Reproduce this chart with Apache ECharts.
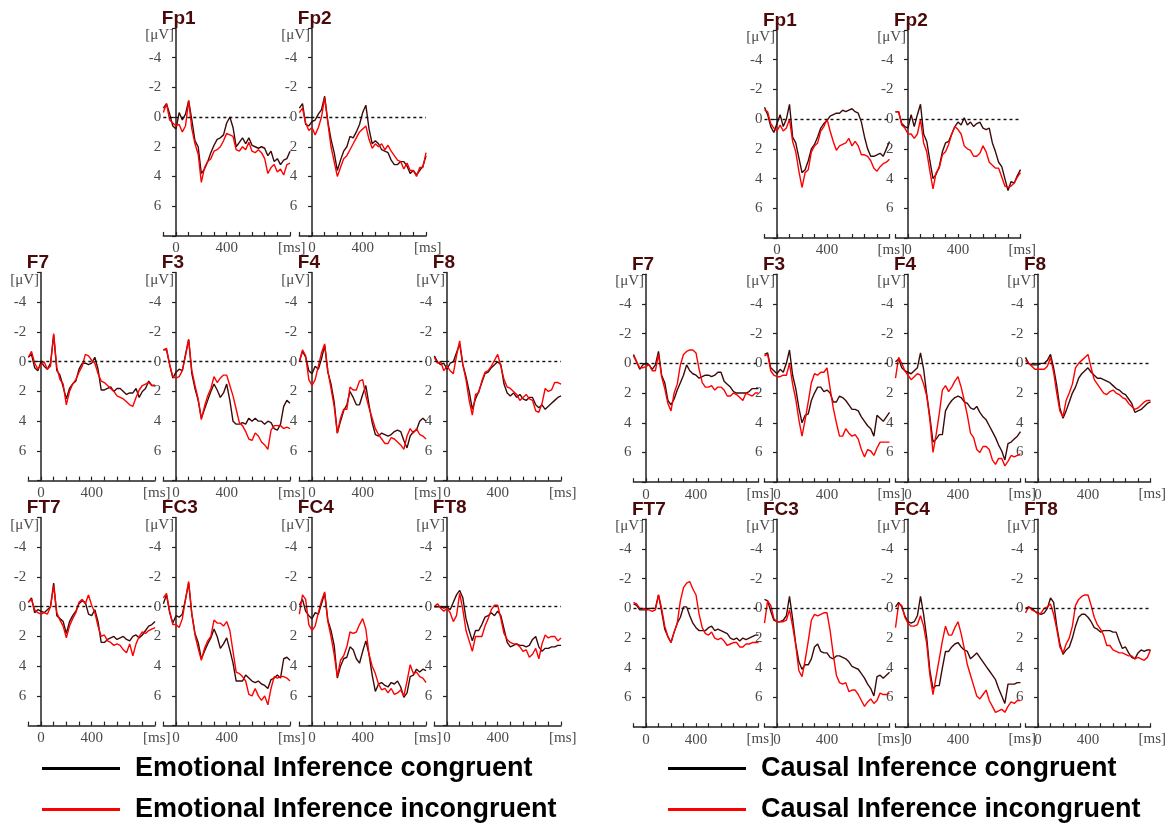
<!DOCTYPE html>
<html><head><meta charset="utf-8">
<script src="https://cdn.jsdelivr.net/npm/echarts@6/dist/echarts.min.js"></script>
<style>html,body{margin:0;padding:0;background:#fff}#c{width:1171px;height:826px}</style>
</head><body><div id="c"></div>
<script>
// ---------- data ----------
const times = [-100,-75,-50,-25,0,25,50,75,100,125,150,175,200,225,250,275,300,325,350,375,400,425,450,475,500,525,550,575,600,625,650,675,700,725,750,775,800,825,850,875,900];
const xLabelValues = [0, 400];
const yLabelValues = [-4, -2, 0, 2, 4, 6];
const emoNames = ['Emotional Inference congruent', 'Emotional Inference incongruent'];
const cauNames = ['Causal Inference congruent', 'Causal Inference incongruent'];

// Emotional inference (left block)
const emoFp1Con = [-0.6,-0.9,-0.2,0.6,0.8,-0.3,0.2,-0.2,-1.1, 0.2,1.6,2.0,3.8,3.5,3.0,2.4,1.9,1.5,1.4,1.2,0.4, 0.0,0.7,2.0,1.7,1.4,1.8,1.4,1.9,2.0,2.1,2.0,2.1, 2.6,2.3,3.0,2.8,3.2,2.9,2.8,2.3];
const emoFp1Inc = [-0.3,-0.9,0.2,0.4,0.6,0.5,1.0,0.6,-1.1, 0.8,1.8,2.5,4.4,3.4,3.0,2.8,2.3,2.2,2.0,1.6,1.1, 1.2,1.3,2.2,2.3,2.0,2.2,1.7,2.3,2.4,2.2,2.4,2.8, 3.8,3.4,3.2,3.7,3.5,3.9,3.2,3.1];
const emoFp2Con = [-0.6,-0.9,0.5,0.6,0.3,0.2,-0.2,-0.5,-1.4, 0.3,1.5,2.4,3.6,2.9,2.3,2.0,1.3,1.4,1.0,0.5,-0.3, -0.8,0.8,1.8,1.6,1.8,2.2,2.3,2.4,2.9,3.2,3.2,3.0, 3.0,3.3,3.8,3.6,3.9,3.6,3.3,2.6];
const emoFp2Inc = [-0.3,-0.6,0.4,0.9,0.7,1.2,0.7,0.0,-1.3, 0.4,2.0,3.0,4.0,3.4,2.8,2.6,2.2,1.8,1.4,1.0,0.8, 0.6,1.5,2.1,1.8,2.0,1.8,2.2,1.9,2.3,2.6,2.9,3.0, 3.5,3.1,3.6,3.6,4.0,3.4,3.4,2.4];
const emoF7Con  = [-0.3,-0.5,0.4,0.6,0.0,0.3,0.5,0.1,-1.8, 0.6,0.9,1.7,2.5,1.8,1.5,1.3,0.5,0.1,0.1,0.2,0.1, -0.3,0.5,1.9,1.9,1.8,1.7,2.0,1.8,1.8,2.0,2.2,2.1, 2.1,1.8,2.4,2.0,1.8,1.3,1.6,1.6];
const emoF7Inc  = [-0.3,-0.7,0.1,0.5,0.2,0.0,0.5,0.3,-1.9, 0.4,1.2,1.5,2.9,2.0,1.5,1.2,0.7,0.3,-0.5,-0.4,-0.1, 0.1,0.8,1.3,1.4,1.6,1.8,2.0,2.3,2.4,2.5,2.7,2.9, 3.0,2.4,1.9,1.6,1.5,1.4,1.6,1.6];
const emoF3Con  = [-0.8,-0.8,0.2,1.1,0.7,0.5,0.6,-0.5,-1.5, 0.8,1.8,2.6,3.8,3.2,2.6,2.0,1.5,1.9,2.4,2.1,1.5, 2.6,4.0,4.2,4.2,4.1,4.2,3.8,4.0,3.8,4.0,4.0,4.2, 4.0,4.1,4.5,4.6,4.2,3.0,2.6,2.8];
const emoF3Inc  = [-0.8,-0.9,0.2,1.0,1.1,1.0,0.6,-0.4,-1.5, 0.6,1.6,2.5,3.9,3.0,2.3,1.8,1.0,1.4,1.1,0.9,0.9, 1.6,2.3,3.2,4.1,4.3,4.7,5.2,5.3,4.8,5.0,5.4,5.6, 5.9,4.6,4.3,4.3,4.3,4.5,4.4,4.5];
const emoF4Con  = [0.0,-0.7,-0.3,0.6,0.8,0.3,0.5,-0.2,-1.1, 0.7,1.5,2.7,4.8,4.0,3.3,2.9,2.0,2.4,2.9,2.9,2.2, 1.6,2.9,4.1,4.9,5.0,4.8,4.9,5.0,4.9,4.7,4.6,4.7, 5.3,5.8,5.0,4.7,4.6,4.0,3.8,4.0];
const emoF4Inc  = [0.0,-0.8,-0.4,1.2,1.6,1.2,0.3,-0.6,-1.2, 0.6,1.8,3.0,4.8,3.8,3.2,3.2,1.7,1.9,1.9,1.3,1.2, 2.3,3.1,3.8,4.5,4.9,5.2,5.5,5.5,5.1,5.2,5.4,5.6, 5.9,5.0,4.5,4.8,4.5,4.9,5.0,5.2];
const emoF8Con  = [-0.4,0.0,0.2,0.1,0.5,0.1,0.0,-0.6,-1.2, 0.2,1.0,2.0,3.2,2.5,2.0,1.4,0.8,0.7,0.4,0.2,0.0, 0.2,1.5,2.1,2.3,2.1,2.4,2.2,2.5,2.6,2.4,2.4,2.9, 3.1,2.9,3.2,3.0,2.8,2.6,2.4,2.3];
const emoF8Inc  = [-0.3,0.1,0.0,0.6,0.3,0.6,0.8,-0.4,-1.4, 0.2,1.2,2.6,3.6,2.2,2.1,1.3,0.7,0.6,0.3,-0.1,-0.5, 0.3,1.2,1.7,1.8,2.0,2.2,2.6,2.4,2.2,2.5,2.6,3.3, 3.4,2.8,1.8,2.0,1.9,1.4,1.4,1.5];
const emoFT7Con = [-0.3,-0.6,0.4,0.2,0.3,0.4,0.2,0.0,-1.6, 0.6,0.8,1.0,1.8,1.0,0.6,0.3,-0.2,-0.4,-0.3,0.5,0.6, 0.2,1.0,2.4,2.4,2.2,2.1,2.0,2.2,2.1,2.0,2.2,2.3, 2.0,1.9,2.1,1.9,1.6,1.3,1.2,1.0];
const emoFT7Inc = [-0.3,-0.5,0.2,0.4,0.5,0.4,0.5,0.0,-1.4, 0.4,0.9,1.3,2.1,1.3,0.8,0.4,-0.3,-0.5,-0.2,-0.8,-0.1, 0.4,1.3,2.0,1.9,2.3,2.4,2.6,2.5,2.6,2.9,3.1,2.5, 3.3,2.5,2.0,1.7,1.8,1.6,1.5,1.4];
const emoFC3Con = [-0.2,-0.8,0.4,1.1,0.6,0.7,0.5,-0.5,-1.6, 0.5,1.8,2.4,3.5,3.0,2.5,2.1,1.5,2.0,2.8,2.5,2.1, 2.9,3.8,5.0,5.0,5.0,4.6,4.8,5.0,5.1,5.0,5.2,5.3, 5.5,4.9,4.8,4.6,4.8,3.5,3.4,3.6];
const emoFC3Inc = [-0.6,-0.9,0.3,1.2,1.2,1.4,0.8,-0.5,-1.7, 0.5,1.9,2.8,3.6,2.8,2.3,2.0,0.9,1.1,1.1,1.3,1.0, 1.6,3.0,4.4,4.5,4.7,5.0,5.9,6.0,5.5,6.0,6.3,6.0, 6.6,5.5,4.7,4.8,4.7,4.7,4.8,5.0];
const emoFC4Con = [-0.1,-0.5,0.3,0.6,0.8,0.4,0.5,-0.2,-0.9, 0.9,1.6,2.6,4.8,4.0,3.5,3.4,2.7,2.9,3.5,3.8,3.0, 2.3,3.2,4.6,5.7,5.2,5.1,5.3,5.4,5.1,5.2,5.0,5.4, 6.1,5.8,4.7,4.6,4.2,4.4,4.2,4.3];
const emoFC4Inc = [0.5,-0.8,-0.5,1.2,1.6,1.3,0.4,-0.4,-1.0, 1.0,2.0,3.2,4.7,3.6,3.3,2.7,1.7,1.8,1.7,1.2,0.8, 1.5,3.2,4.0,4.5,5.2,5.6,5.5,5.8,5.5,5.9,5.8,5.6, 6.0,5.0,3.9,4.5,4.4,4.7,4.8,5.1];
const emoFT8Con = [0.0,0.0,0.0,0.1,0.0,0.2,-0.3,-0.8,-1.1, -0.6,0.8,1.6,2.3,1.6,1.6,1.2,0.7,0.6,0.4,0.6,0.3, 0.6,1.5,2.4,2.7,2.6,2.5,2.6,2.6,2.7,2.6,2.2,2.0, 2.7,3.0,2.8,2.8,2.7,2.7,2.6,2.6];
const emoFT8Inc = [0.0,-0.2,0.1,0.3,0.1,0.4,1.0,0.6,-0.9, 0.2,1.6,2.3,3.0,2.0,2.0,2.0,1.3,0.8,0.2,-0.1,-0.1, 0.8,1.8,2.2,2.4,2.5,2.5,2.7,3.0,2.9,3.4,3.2,2.8, 3.5,2.5,1.9,2.1,2.0,2.0,2.3,2.1];

// Causal inference (right block)
const cauFp1Con = [-0.8,-0.3,0.5,0.9,0.3,-0.3,0.5,0.0,-1.0, 1.2,1.6,2.6,3.6,3.4,2.8,2.0,1.7,1.2,0.6,0.3,0.1, -0.2,-0.3,-0.4,-0.4,-0.6,-0.5,-0.6,-0.7,-0.5,-0.4,0.2,1.2, 2.0,2.5,2.5,2.4,2.3,2.5,2.0,1.5];
const cauFp1Inc = [-0.6,-0.5,0.3,0.6,0.8,0.4,0.8,0.6,0.0, 1.5,2.2,3.5,4.6,3.6,3.4,2.2,1.8,1.6,0.8,0.5,0.0, 0.8,1.5,2.1,1.8,1.7,1.6,1.3,1.8,1.5,1.8,2.4,2.4, 2.5,2.8,3.3,3.5,3.2,3.0,2.9,2.7];
const cauFp2Con = [-0.5,-0.5,0.3,0.5,0.6,-0.3,0.5,-0.3,-1.0, 1.0,1.5,2.8,4.0,3.7,3.2,2.2,1.6,1.5,1.0,0.5,0.2, 0.4,-0.1,0.4,0.2,0.5,0.3,0.2,0.6,0.7,0.6,1.6,2.2, 2.9,3.2,4.0,4.8,4.2,4.3,3.8,3.4];
const cauFp2Inc = [-0.5,-0.5,0.4,0.6,1.0,1.0,1.3,1.0,0.0, 1.6,2.2,3.5,4.7,3.6,3.3,2.4,2.2,1.7,1.0,0.5,0.7, 1.0,1.8,2.0,2.1,2.5,2.5,2.3,1.8,2.2,2.9,3.1,3.3, 3.3,3.9,4.5,4.6,4.5,4.3,3.9,3.6];
const cauF7Con  = [-0.6,-0.1,0.4,0.1,0.0,0.1,0.4,0.1,-0.8, 0.8,1.3,2.5,2.8,2.4,1.8,1.3,0.8,0.1,0.5,0.7,0.8, 1.0,0.9,0.8,0.8,0.9,0.8,0.6,0.6,1.2,1.4,1.6,1.9, 2.0,2.0,2.0,2.0,1.9,1.7,1.7,1.7];
const cauF7Inc  = [-0.5,-0.1,0.3,0.3,0.2,0.1,0.5,0.5,-0.6, 0.9,1.7,2.7,3.2,2.0,1.4,0.1,-0.6,-0.8,-0.9,-0.9,-0.7, 0.4,1.3,1.6,1.6,1.5,1.8,1.6,1.6,1.8,2.2,2.2,2.0, 2.1,2.3,2.5,2.0,2.1,2.2,2.0,2.0];
const cauF3Con  = [-0.6,-0.7,0.3,0.5,0.7,0.4,0.6,0.0,-0.9, 0.8,1.7,3.0,4.0,3.5,3.4,2.5,2.0,1.6,1.6,1.9,1.8, 2.0,2.6,2.6,2.2,2.3,2.5,2.8,3.1,3.1,3.2,3.6,3.9, 4.2,4.4,4.9,3.5,3.7,3.9,3.6,3.3];
const cauF3Inc  = [-0.5,-0.6,0.5,0.8,0.9,0.9,0.8,0.8,0.0, 1.4,2.4,3.8,4.9,3.8,2.6,1.3,0.7,0.8,0.6,0.6,0.3, 1.7,3.0,4.0,4.9,4.9,4.4,4.7,4.9,4.8,5.1,5.8,6.3, 5.8,5.9,6.2,5.7,5.3,5.3,5.3,5.3];
const cauF4Con  = [-0.1,-0.3,0.3,0.5,0.6,0.7,0.5,0.3,-0.7, 0.4,2.1,3.6,5.3,5.1,4.8,4.8,3.2,2.8,2.5,2.3,2.2, 2.3,2.6,2.7,3.0,3.1,2.9,3.3,3.6,3.8,4.2,4.6,5.0, 5.5,5.9,6.5,5.4,5.3,5.1,4.9,4.6];
const cauF4Inc  = [1.0,-0.4,0.0,0.5,0.8,1.1,0.9,0.7,0.8, 1.4,2.2,3.8,6.0,4.8,3.4,1.8,1.5,1.9,1.6,1.2,0.9, 1.6,2.5,3.5,4.7,5.0,5.8,6.0,5.6,5.6,5.8,6.5,6.8, 6.4,6.4,6.9,6.6,6.2,6.3,6.2,6.1];
const cauF8Con  = [-0.4,0.0,0.1,0.1,0.1,0.0,0.0,-0.2,-0.6, 0.3,1.5,3.0,3.7,3.2,2.6,2.0,1.6,1.0,0.7,0.5,0.3, 0.6,0.8,1.0,1.0,1.1,1.2,1.3,1.5,1.7,1.8,2.0,2.1, 2.4,2.7,3.3,3.2,3.1,2.9,2.7,2.6];
const cauF8Inc  = [-0.2,0.0,0.2,0.4,0.4,0.4,0.4,0.2,-0.4, 0.6,2.0,3.2,3.6,2.5,2.0,1.4,0.3,0.0,-0.2,-0.4,-0.6, 0.3,1.1,1.4,1.7,2.0,2.1,1.9,1.8,2.0,2.1,2.3,2.4, 2.7,2.9,3.1,3.0,2.8,2.6,2.5,2.5];
const cauFT7Con = [-0.3,-0.2,0.1,0.1,0.1,0.0,0.0,0.0,-0.9, 0.2,1.4,1.9,2.3,1.6,1.0,0.6,-0.1,-0.1,0.5,1.0,1.3, 1.5,1.5,1.5,1.3,1.2,1.5,1.4,1.5,1.6,1.7,2.0,2.1, 2.0,2.2,2.0,2.1,2.0,1.9,1.8,1.8];
const cauFT7Inc = [-0.4,-0.3,0.0,0.0,0.1,0.1,0.2,0.1,-0.9, 0.0,1.2,1.9,2.3,1.6,1.0,-0.5,-1.4,-1.7,-1.8,-1.3,-0.9, 0.4,1.3,1.7,1.8,1.6,2.0,2.1,2.0,2.2,2.5,2.4,2.3, 2.3,2.6,2.6,2.4,2.4,2.3,2.3,2.3];
const cauFC3Con = [-0.6,-0.5,0.2,0.8,0.9,0.9,0.8,0.5,-0.8, 0.7,2.4,3.6,4.1,3.8,3.8,3.4,2.6,2.4,2.9,3.0,3.0, 3.3,3.4,3.2,3.2,3.3,3.4,3.6,3.9,4.0,4.1,4.4,4.7, 5.1,5.4,5.9,4.6,4.5,4.7,4.5,4.3];
const cauFC3Inc = [1.0,-0.5,-0.2,0.7,0.9,0.9,0.9,0.8,0.1, 1.2,2.5,4.2,4.6,3.5,2.2,0.8,0.4,0.5,0.4,0.3,0.3, 1.5,3.1,4.5,5.0,5.1,5.0,5.6,5.5,5.5,5.8,6.2,6.6, 6.3,6.1,6.4,6.2,5.7,5.8,5.8,5.7];
const cauFC4Con = [-0.1,-0.4,-0.1,0.5,0.9,1.0,0.9,0.5,-0.8, 0.4,2.0,4.2,5.4,5.2,5.2,4.0,2.9,2.9,2.6,2.4,2.3, 2.6,2.8,2.9,3.4,3.2,3.0,3.3,3.6,3.9,4.2,4.5,4.8, 5.4,5.9,6.4,5.1,5.1,5.1,5.0,5.0];
const cauFC4Inc = [1.3,-0.3,-0.2,0.6,1.0,1.2,1.2,1.1,0.5, 1.2,2.4,4.5,5.8,4.6,3.4,2.2,1.2,1.8,1.8,1.3,0.9, 1.7,2.7,3.8,4.5,5.2,5.9,6.1,5.8,5.5,6.2,6.6,7.0, 6.9,6.8,7.0,6.6,6.3,6.4,6.2,6.2];
const cauFT8Con = [0.0,-0.1,0.0,0.2,0.3,0.4,0.3,0.0,-0.7, -0.4,1.2,2.4,3.1,2.8,2.6,2.0,1.2,0.6,0.4,0.4,0.6, 0.9,1.3,1.4,1.6,1.5,1.5,1.5,1.6,1.6,2.2,2.7,2.6, 3.0,3.3,3.4,3.0,2.8,2.9,2.8,2.8];
const cauFT8Inc = [0.3,-0.1,0.1,0.2,0.4,0.3,0.0,-0.1,-0.3, 0.4,1.4,2.6,3.0,2.4,2.0,1.2,-0.2,-0.6,-0.8,-0.9,-0.9, -0.2,0.6,1.1,1.4,1.8,2.5,2.5,2.8,2.9,3.0,3.0,3.1, 3.2,3.2,3.4,3.3,3.4,3.5,3.3,2.8];

// ---------- layout ----------
const LAYOUT = {
  emo: { x0: [41, 176, 312, 447], tops: [27.9, 272.6, 517.6], px100: 12.67 },
  cau: { x0: [646, 777, 908, 1038], tops: [30, 274.2, 519.2], px100: 12.5 }
};
const GRID_H = 208;
const COL_CON = '#3d0a0a';
const COL_INC = '#ff0000';
const TITLE_COL = '#4b0a0a';
const AXIS_COL = '#222';
const LABEL_COL = '#4a4a4a';
const SERIF = '"Liberation Serif", "DejaVu Serif", serif';
const SANS = '"Liberation Sans", Arial, sans-serif';

const panels = [
  { g: 'emo', row: 0, col: 1, label: 'Fp1', con: emoFp1Con, inc: emoFp1Inc },
  { g: 'emo', row: 0, col: 2, label: 'Fp2', con: emoFp2Con, inc: emoFp2Inc },
  { g: 'emo', row: 1, col: 0, label: 'F7',  con: emoF7Con,  inc: emoF7Inc },
  { g: 'emo', row: 1, col: 1, label: 'F3',  con: emoF3Con,  inc: emoF3Inc },
  { g: 'emo', row: 1, col: 2, label: 'F4',  con: emoF4Con,  inc: emoF4Inc },
  { g: 'emo', row: 1, col: 3, label: 'F8',  con: emoF8Con,  inc: emoF8Inc },
  { g: 'emo', row: 2, col: 0, label: 'FT7', con: emoFT7Con, inc: emoFT7Inc },
  { g: 'emo', row: 2, col: 1, label: 'FC3', con: emoFC3Con, inc: emoFC3Inc },
  { g: 'emo', row: 2, col: 2, label: 'FC4', con: emoFC4Con, inc: emoFC4Inc },
  { g: 'emo', row: 2, col: 3, label: 'FT8', con: emoFT8Con, inc: emoFT8Inc },
  { g: 'cau', row: 0, col: 1, label: 'Fp1', con: cauFp1Con, inc: cauFp1Inc },
  { g: 'cau', row: 0, col: 2, label: 'Fp2', con: cauFp2Con, inc: cauFp2Inc },
  { g: 'cau', row: 1, col: 0, label: 'F7',  con: cauF7Con,  inc: cauF7Inc },
  { g: 'cau', row: 1, col: 1, label: 'F3',  con: cauF3Con,  inc: cauF3Inc },
  { g: 'cau', row: 1, col: 2, label: 'F4',  con: cauF4Con,  inc: cauF4Inc },
  { g: 'cau', row: 1, col: 3, label: 'F8',  con: cauF8Con,  inc: cauF8Inc },
  { g: 'cau', row: 2, col: 0, label: 'FT7', con: cauFT7Con, inc: cauFT7Inc },
  { g: 'cau', row: 2, col: 1, label: 'FC3', con: cauFC3Con, inc: cauFC3Inc },
  { g: 'cau', row: 2, col: 2, label: 'FC4', con: cauFC4Con, inc: cauFC4Inc },
  { g: 'cau', row: 2, col: 3, label: 'FT8', con: cauFT8Con, inc: cauFT8Inc }
];

const grids = [], xAxes = [], yAxes = [], series = [], graphics = [];

panels.forEach((p, i) => {
  const L = LAYOUT[p.g];
  const x0 = L.x0[p.col];
  const left = x0 - L.px100;
  const width = L.px100 * 10;
  const top = L.tops[p.row];
  grids.push({ left: left, top: top, width: width, height: GRID_H, containLabel: false, outerBoundsMode: 'none' });
  xAxes.push({
    type: 'value', gridIndex: i, min: -100, max: 900, interval: 100,
    axisLine: { show: true, onZero: false, lineStyle: { color: AXIS_COL, width: 1.5 } },
    axisTick: { show: true, inside: true, length: 4, lineStyle: { color: AXIS_COL, width: 1.2 } },
    axisLabel: {
      formatter: v => (xLabelValues.indexOf(v) >= 0 ? String(v) : ''),
      color: LABEL_COL, fontFamily: SERIF, fontSize: 15, margin: 5,
      showMinLabel: true, showMaxLabel: true, hideOverlap: false
    },
    splitLine: { show: false }
  });
  yAxes.push({
    type: 'value', gridIndex: i, inverse: true, min: -6, max: 8, interval: 2,
    axisLine: { show: true, onZero: true, lineStyle: { color: AXIS_COL, width: 1.5 } },
    axisTick: { show: true, inside: false, length: 4, lineStyle: { color: AXIS_COL, width: 1.2 } },
    axisLabel: {
      formatter: v => (yLabelValues.indexOf(v) >= 0 ? String(v) : ''),
      color: LABEL_COL, fontFamily: SERIF, fontSize: 15, margin: 2
    },
    splitLine: { show: false }
  });
  const names = p.g === 'emo' ? emoNames : cauNames;
  series.push({
    type: 'line', name: names[0], xAxisIndex: i, yAxisIndex: i,
    data: times.map((t, k) => [t, p.con[k]]),
    symbol: 'none', showSymbol: false, animation: false, z: 3,
    lineStyle: { color: COL_CON, width: 1.4 }, itemStyle: { color: COL_CON },
    markLine: {
      silent: true, symbol: ['none', 'none'], animation: false,
      label: { show: false },
      lineStyle: { type: [3, 3], color: '#111', width: 1.4 },
      data: [{ yAxis: 0 }]
    }
  });
  series.push({
    type: 'line', name: names[1], xAxisIndex: i, yAxisIndex: i,
    data: times.map((t, k) => [t, p.inc[k]]),
    symbol: 'none', showSymbol: false, animation: false, z: 4,
    lineStyle: { color: COL_INC, width: 1.4 }, itemStyle: { color: COL_INC }
  });
  // panel label, unit labels
  graphics.push({
    type: 'text', x: left - 1.5, y: top - 9.5, silent: true,
    style: { text: p.label, font: 'bold 19px ' + SANS, fill: TITLE_COL, align: 'left', verticalAlign: 'middle' }
  });
  graphics.push({
    type: 'text', x: x0 - 2, y: top + 7, silent: true,
    style: { text: '[\u03bcV]', font: '15px ' + SERIF, fill: LABEL_COL, align: 'right', verticalAlign: 'middle' }
  });
  graphics.push({
    type: 'text', x: left + width - 12, y: top + GRID_H + 12, silent: true,
    style: { text: '[ms]', font: '15px ' + SERIF, fill: LABEL_COL, align: 'left', verticalAlign: 'middle' }
  });
});

const legendCommon = {
  orient: 'vertical', itemWidth: 78, itemHeight: 3, itemGap: 14, icon: 'rect',
  selectedMode: false, padding: 0,
  textStyle: { fontSize: 27, fontWeight: 'bold', color: '#000', fontFamily: SANS, padding: [0, 0, 0, 10] }
};

const option = {
  backgroundColor: '#fff',
  animation: false,
  grid: grids,
  xAxis: xAxes,
  yAxis: yAxes,
  series: series,
  legend: [
    Object.assign({}, legendCommon, {
      left: 42, top: 755,
      data: [{ name: emoNames[0], itemStyle: { color: '#000' } }, { name: emoNames[1], itemStyle: { color: '#ff0000' } }]
    }),
    Object.assign({}, legendCommon, {
      left: 668, top: 755,
      data: [{ name: cauNames[0], itemStyle: { color: '#000' } }, { name: cauNames[1], itemStyle: { color: '#ff0000' } }]
    })
  ],
  graphic: graphics
};

const chart = echarts.init(document.getElementById('c'), null, { renderer: 'canvas' });
chart.setOption(option);
</script>
</body></html>
